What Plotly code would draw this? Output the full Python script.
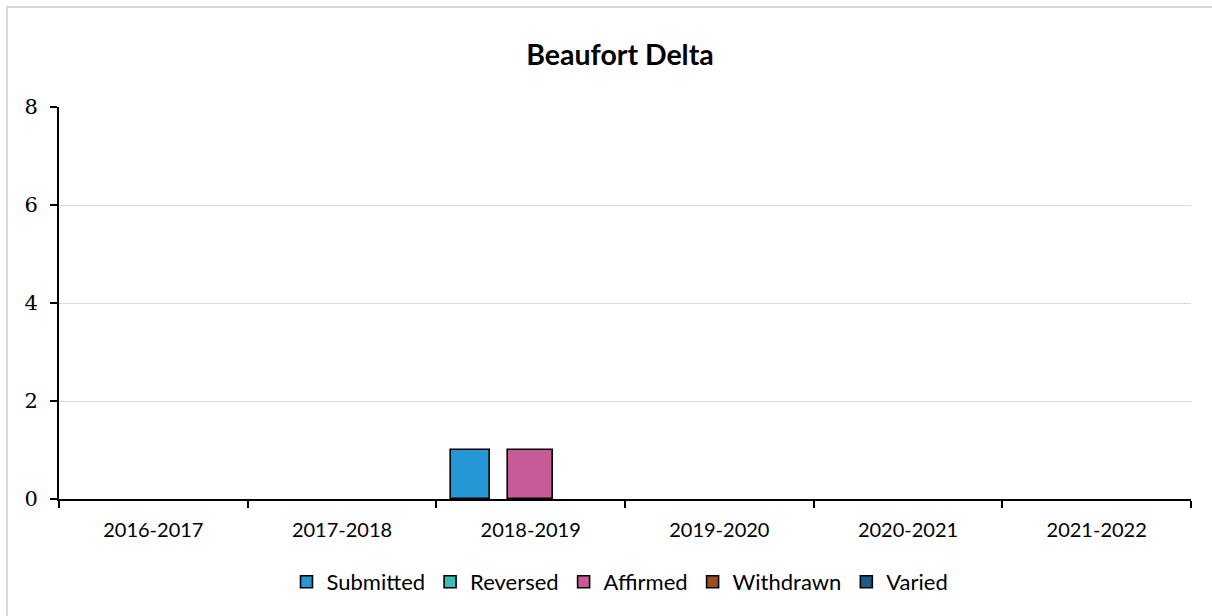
import plotly.graph_objects as go

# Appeal outcomes by fiscal year, Beaufort Delta region
years = ["2016-2017", "2017-2018", "2018-2019", "2019-2020", "2020-2021", "2021-2022"]
submitted = [0, 0, 1, 0, 0, 0]
reversed_ = [0, 0, 0, 0, 0, 0]
affirmed = [0, 0, 1, 0, 0, 0]
withdrawn = [0, 0, 0, 0, 0, 0]
varied = [0, 0, 0, 0, 0, 0]

series = [
    ("Submitted", submitted, "#2696D4", 0.206),
    ("Reversed", reversed_, "#3CBFB3", 0.22),
    ("Affirmed", affirmed, "#C75B98", 0.238),
    ("Withdrawn", withdrawn, "#9E4B22", 0.22),
    ("Varied", varied, "#1B5C84", 0.22),
]

W, H = 1212, 616
L, R, T, B = 59, 1191, 107, 499
pw, ph = R - L, B - T

slot = 0.159  # spacing between series within a year, in category units
fig = go.Figure()
for i, (name, vals, color, w) in enumerate(series):
    # empty bars are made transparent so nothing is drawn along the baseline
    fig.add_trace(go.Bar(
        name=name, x=years, y=vals,
        width=w, offset=(i - 2) * slot - w / 2,
        marker=dict(color=color, opacity=[1 if v else 0 for v in vals],
                    line=dict(color="#000000", width=1.6)),
    ))

fig.update_layout(
    width=W, height=H,
    margin=dict(l=L, r=W - R, t=T, b=H - B),
    paper_bgcolor="white", plot_bgcolor="white",
    barmode="overlay",
    showlegend=True,
    legend=dict(
        orientation="h", x=(620 - L) / pw, xanchor="center", y=(B - 582) / ph, yanchor="middle",
        font=dict(family="Lato", size=22, color="#000000"),
        itemwidth=30, traceorder="normal",
    ),
    title=dict(
        text="<b>Beaufort Delta</b>", x=620 / W, xanchor="center",
        y=1 - 55 / H, yanchor="middle",
        font=dict(family="Lato", size=28.5, color="#000000"),
    ),
    xaxis=dict(
        type="category", range=[-0.5, 5.5],
        showline=True, linecolor="#000000", linewidth=2,
        ticks="outside", tickson="boundaries", ticklen=7, tickwidth=1.5, tickcolor="#000000",
        tickfont=dict(family="Lato", size=20, color="#000000"),
        ticklabelstandoff=12,
        showgrid=False, fixedrange=True,
    ),
    yaxis=dict(
        range=[0, 8], dtick=2, tick0=0,
        showline=True, linecolor="#000000", linewidth=2,
        ticks="outside", ticklen=7, tickwidth=1.5, tickcolor="#000000",
        tickfont=dict(family="DejaVu Serif", size=21, color="#000000"),
        ticklabelstandoff=8,
        showgrid=True, gridcolor="#D9D9D9", gridwidth=1.3,
        zeroline=False, fixedrange=True,
    ),
    bargap=0,
)

# chart frame
fig.add_shape(
    type="rect", xref="paper", yref="paper", layer="below",
    x0=(7 - L) / pw, x1=(W + 5 - L) / pw,
    y0=(B - (H + 10)) / ph, y1=(B - 7) / ph,
    line=dict(color="#D9D9D9", width=2), fillcolor="rgba(0,0,0,0)",
)

fig.write_html("out.html")
